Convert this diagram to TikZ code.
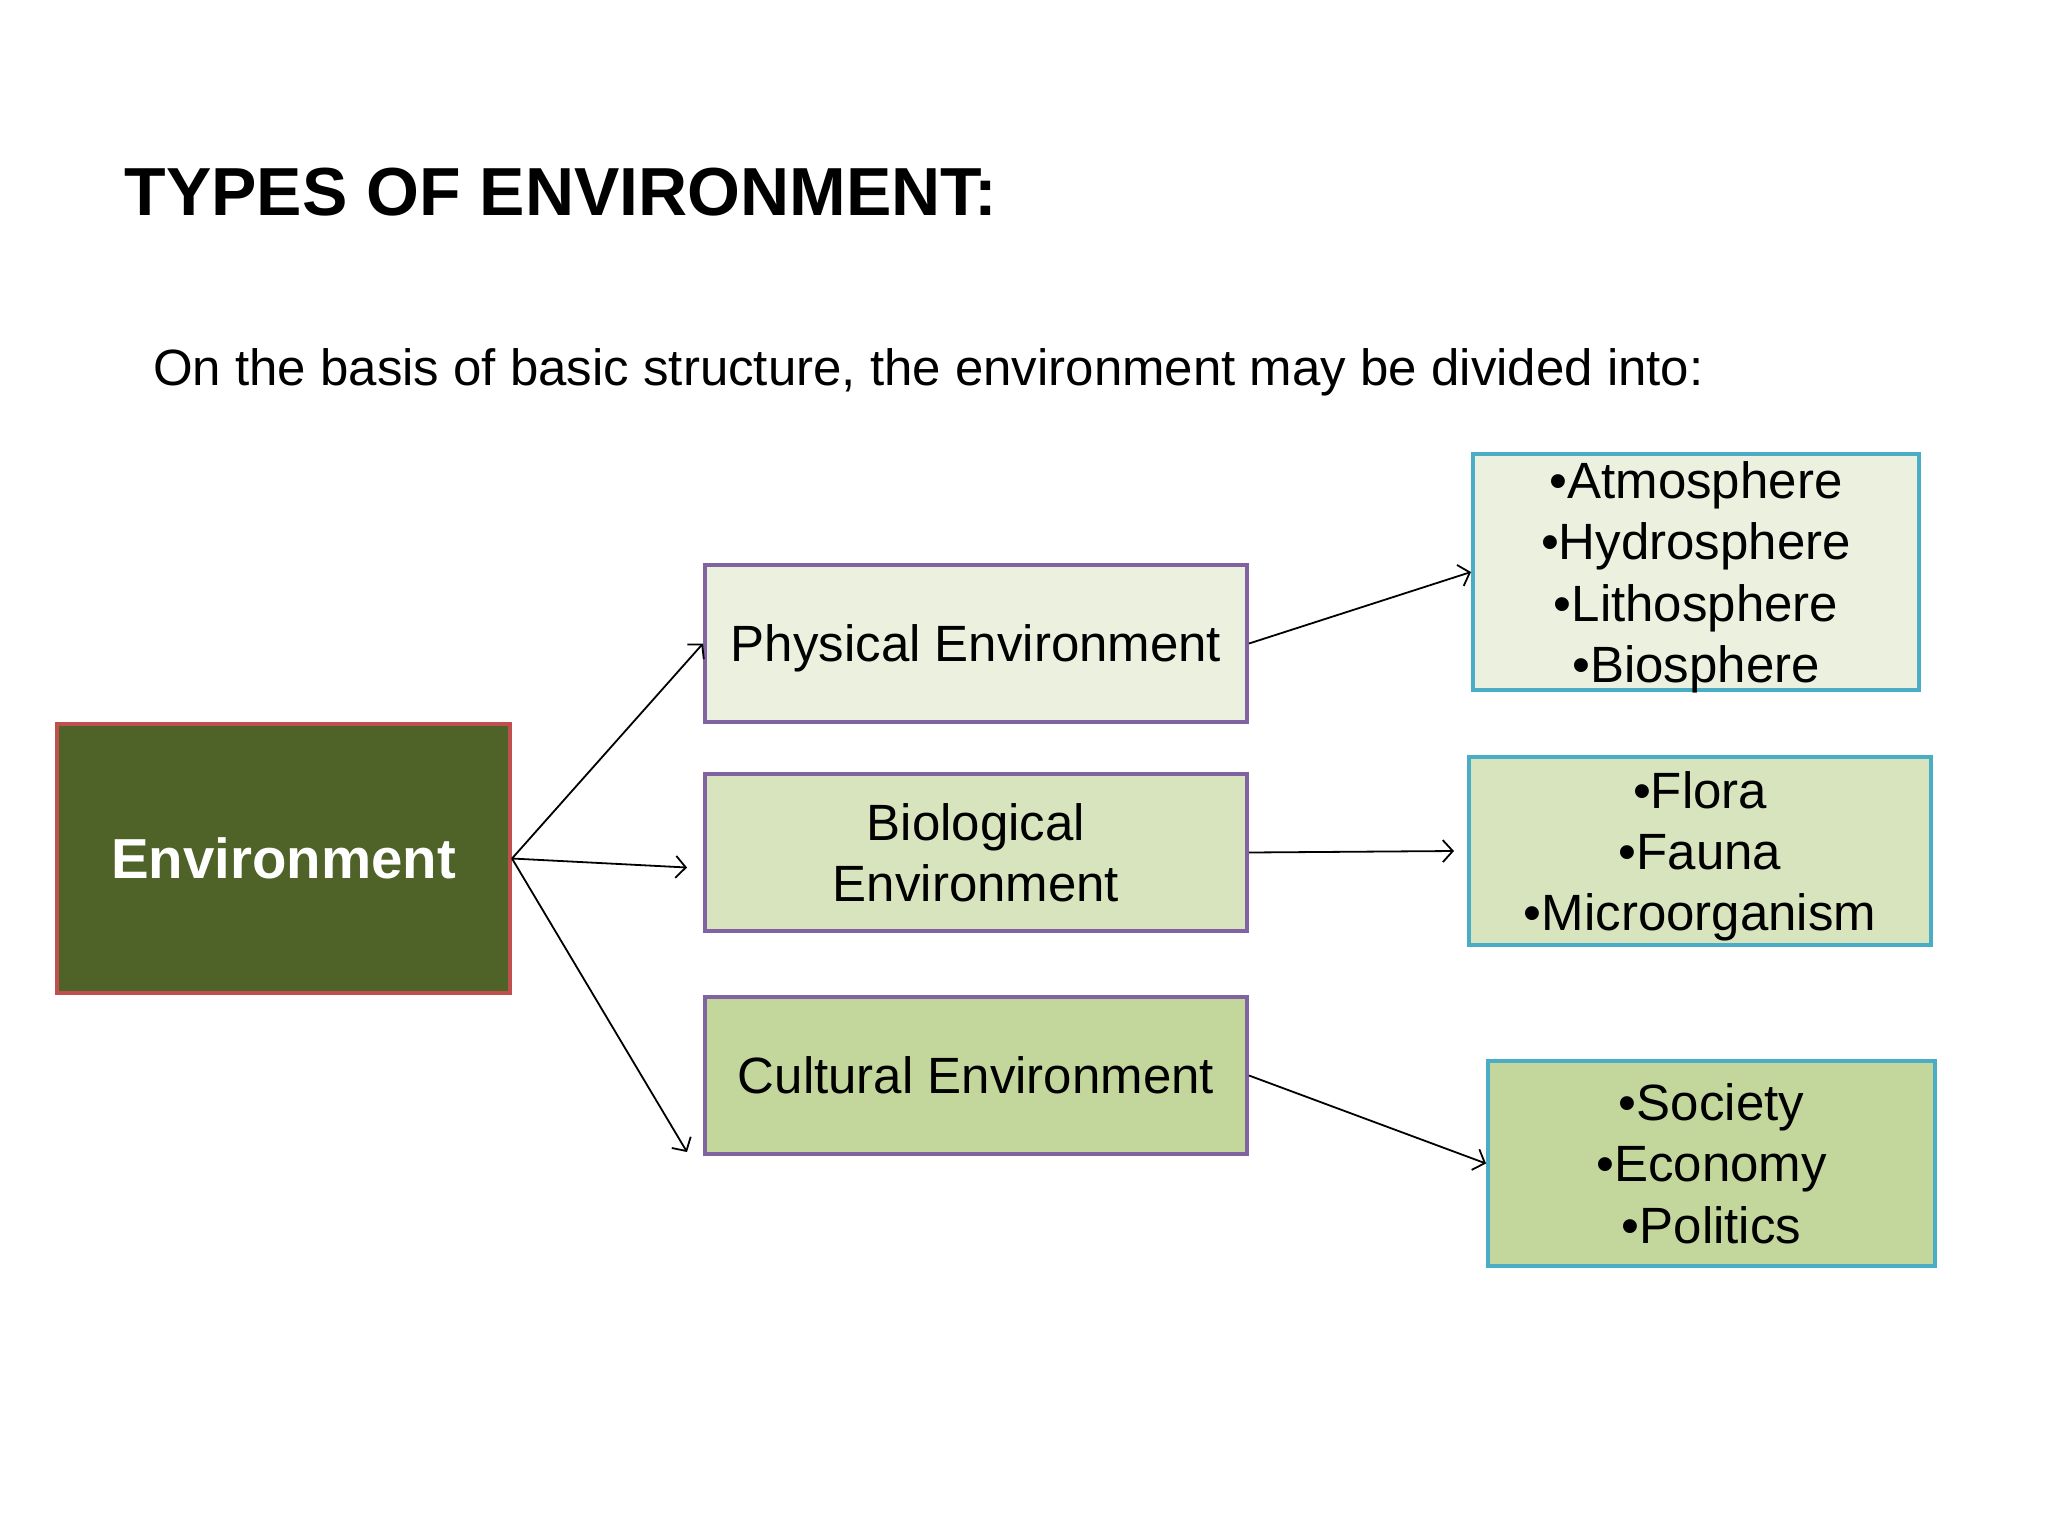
\documentclass[tikz,border=0pt]{standalone}
\usepackage{fontspec}
\setmainfont{Liberation Sans}
\usetikzlibrary{arrows.meta, calc}

\definecolor{envgreen}{HTML}{4F6228}
\definecolor{envred}{HTML}{C0504D}
\definecolor{typepurple}{HTML}{8064A2}
\definecolor{listaqua}{HTML}{4BACC6}
\definecolor{paleA}{HTML}{EBF1DE}
\definecolor{paleB}{HTML}{D7E4BD}
\definecolor{paleC}{HTML}{C3D69B}

\begin{document}
\begin{tikzpicture}[x=0.5pt, y=-0.5pt]
    \tikzstyle{rootbox} = [rectangle, draw=envred, fill=envgreen, line width=2pt, inner sep=0pt, text depth=0pt, minimum width=226.5pt, minimum height=134.5pt, text=white, font=\fontsize{28.2}{34}\selectfont\bfseries]
    \tikzstyle{typebox} = [rectangle, draw=typepurple, line width=2pt, inner sep=0pt, text depth=0pt, minimum width=271pt, minimum height=78.5pt, align=center, font=\fontsize{25.5}{30.7}\selectfont]
    \tikzstyle{listbox} = [rectangle, draw=listaqua, line width=2pt, inner sep=0pt, text depth=0pt, align=center, font=\fontsize{25.5}{30.7}\selectfont]
    \tikzstyle{arrow} = [line width=0.9pt, -{Straight Barb[length=5pt, width=11pt]}]

    \useasboundingbox (0,0) rectangle (2048,1536);

    % headings
    \node[anchor=base west, font=\fontsize{34}{40}\selectfont\bfseries] (title) at (117.5,215) {TYPES OF ENVIRONMENT:};
    \node[anchor=base west, font=\fontsize{25.5}{30.7}\selectfont] (intro) at (146,385) {On the basis of basic structure, the environment may be divided into:};

    % boxes
    \node[rootbox] (env) at (283.5,858.5) {Environment};

    \node[typebox, fill=paleA] (phys) at (976,643.5) {Physical Environment};
    \node[typebox, fill=paleB] (bio) at (976,852.5) {Biological\\Environment};
    \node[typebox, fill=paleC] (cult) at (976,1075.5) {Cultural Environment};

    \node[listbox, fill=paleA, minimum width=223pt, minimum height=118pt] (spheres) at (1696,572) {•Atmosphere\\•Hydrosphere\\•Lithosphere\\•Biosphere};
    \node[listbox, fill=paleB, minimum width=231pt, minimum height=94pt] (living) at (1700,851) {•Flora\\•Fauna\\•Microorganism};
    \node[listbox, fill=paleC, minimum width=223.5pt, minimum height=102.5pt] (social) at (1711.5,1163.5) {•Society\\•Economy\\•Politics};

    % connectors
    \draw[arrow] (env.east) -- (phys.west);
    \draw[arrow] (env.east) -- ($(bio.west)+(-16,15)$);
    \draw[arrow] (env.east) -- ($(cult.south west)+(-16,-4)$);
    \draw[arrow] (phys.east) -- (spheres.west);
    \draw[arrow] (bio.east) -- ($(living.west)+(-13,0)$);
    \draw[arrow] (cult.east) -- (social.west);
\end{tikzpicture}
\end{document}
